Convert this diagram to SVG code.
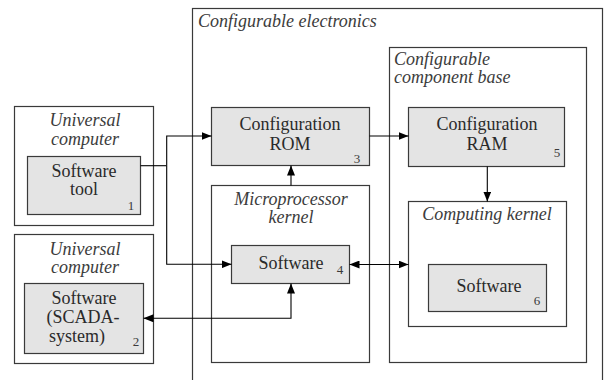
<svg xmlns="http://www.w3.org/2000/svg" width="606" height="380" viewBox="0 0 606 380">
  <style>
    .frame { fill: #ffffff; stroke: #3a3a3a; stroke-width: 1.2; }
    .block { fill: #e4e4e4; stroke: #3a3a3a; stroke-width: 1.2; }
    text { font-family: 'Liberation Serif', Tinos, 'Times New Roman', serif; }
    .title { font-style: italic; font-size: 18px; fill: #3c3c3c; }
    .label { font-size: 18px; fill: #2a2a2a; text-anchor: middle; }
    .num { font-size: 13px; fill: #3a3a3a; text-anchor: middle; }
    .wire { fill: none; stroke: #000000; stroke-width: 1.1; }
  </style>
  <defs>
    <marker id="arrow" viewBox="0 0 10 8" refX="10" refY="4" markerWidth="10" markerHeight="8" markerUnits="userSpaceOnUse" orient="auto-start-reverse">
      <path d="M0,0 L10,4 L0,8 Z" fill="#000000"/>
    </marker>
  </defs>

  <rect width="606" height="380" fill="#ffffff"/>

  <!-- outer container -->
  <g id="configurable-electronics">
    <rect class="frame" x="192.5" y="8.5" width="410" height="400"/>
    <text class="title" x="198" y="27" font-size="19">Configurable electronics</text>
  </g>

  <g id="universal-computer-1">
    <rect class="frame" x="14.5" y="106.5" width="139" height="119"/>
    <text class="title" x="85" y="126" text-anchor="middle">Universal</text>
    <text class="title" x="85" y="145" text-anchor="middle">computer</text>
  </g>

  <g id="software-tool">
    <rect class="block" x="27.5" y="156.5" width="113" height="58"/>
    <text class="label" x="84" y="177">Software</text>
    <text class="label" x="84" y="195">tool</text>
    <text class="num" x="131" y="210">1</text>
  </g>

  <g id="universal-computer-2">
    <rect class="frame" x="14.5" y="234.5" width="139" height="129"/>
    <text class="title" x="85" y="255" text-anchor="middle">Universal</text>
    <text class="title" x="85" y="273" text-anchor="middle">computer</text>
  </g>

  <g id="software-scada">
    <rect class="block" x="24.5" y="283.5" width="119" height="70"/>
    <text class="label" x="84" y="304">Software</text>
    <text class="label" x="83" y="323">(SCADA-</text>
    <text class="label" x="77" y="342">system)</text>
    <text class="num" x="136" y="346">2</text>
  </g>

  <g id="configuration-rom">
    <rect class="block" x="211.5" y="107.5" width="158" height="58"/>
    <text class="label" x="290" y="130">Configuration</text>
    <text class="label" x="290" y="150">ROM</text>
    <text class="num" x="357" y="163">3</text>
  </g>

  <g id="microprocessor-kernel">
    <rect class="frame" x="211.5" y="185.5" width="158" height="177"/>
    <text class="title" x="291" y="205" text-anchor="middle">Microprocessor</text>
    <text class="title" x="291" y="223" text-anchor="middle">kernel</text>
  </g>

  <g id="software-4">
    <rect class="block" x="231.5" y="245.5" width="118" height="38"/>
    <text class="label" x="291" y="269">Software</text>
    <text class="num" x="340" y="274">4</text>
  </g>

  <g id="configurable-component-base">
    <rect class="frame" x="389.5" y="47.5" width="197" height="315"/>
    <text class="title" x="394" y="65">Configurable</text>
    <text class="title" x="394" y="83">component base</text>
  </g>

  <g id="configuration-ram">
    <rect class="block" x="408.5" y="107.5" width="156" height="59"/>
    <text class="label" x="487" y="130">Configuration</text>
    <text class="label" x="487" y="150">RAM</text>
    <text class="num" x="557" y="157">5</text>
  </g>

  <g id="computing-kernel">
    <rect class="frame" x="408.5" y="201.5" width="158" height="125"/>
    <text class="title" x="487" y="220" text-anchor="middle">Computing kernel</text>
  </g>

  <g id="software-6">
    <rect class="block" x="428.5" y="264.5" width="118" height="47"/>
    <text class="label" x="489" y="292">Software</text>
    <text class="num" x="537" y="305">6</text>
  </g>

  <!-- connectors -->
  <g id="connectors">
    <path class="wire" d="M140.5,165.7 H166.7"/>
    <path class="wire" d="M166.7,165.7 V136 H211.5" marker-end="url(#arrow)"/>
    <path class="wire" d="M166.7,165.7 V264.3 H231.5" marker-end="url(#arrow)"/>
    <path class="wire" d="M143.5,318.3 H291 V283.5" marker-start="url(#arrow)" marker-end="url(#arrow)"/>
    <path class="wire" d="M291,185.5 V165.5" marker-end="url(#arrow)"/>
    <path class="wire" d="M369.5,136 H408.5" marker-end="url(#arrow)"/>
    <path class="wire" d="M487.3,166.5 V201.5" marker-end="url(#arrow)"/>
    <path class="wire" d="M349.5,264.5 H408.5" marker-start="url(#arrow)" marker-end="url(#arrow)"/>
  </g>
</svg>
